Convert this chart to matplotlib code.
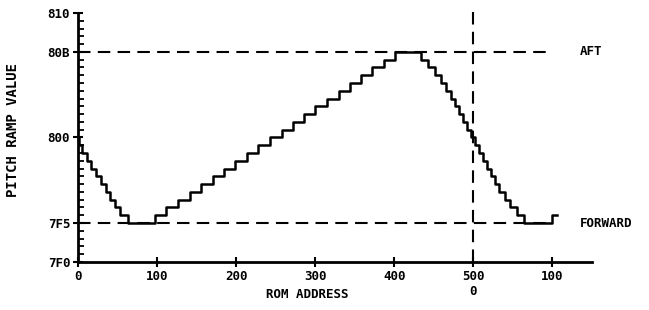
import matplotlib.pyplot as plt
from matplotlib.ticker import MultipleLocator

# ROM address where each step of the ramp starts, and the value it holds
rom_address = [0, 1, 5, 11, 17, 23, 29, 35, 41, 47, 53, 64,
               97, 112, 127, 142, 156, 171, 185, 199, 214, 228, 243,
               258, 272, 286, 300, 315, 330, 344, 358, 372, 387, 401,
               434, 443, 451, 459, 466, 472, 477, 482, 487, 492, 497,
               502, 507, 512, 517, 522, 527, 533, 540, 547, 555, 564,
               600, 606]
ramp_value = [0x800, 0x7FF, 0x7FE, 0x7FD, 0x7FC, 0x7FB, 0x7FA, 0x7F9,
              0x7F8, 0x7F7, 0x7F6, 0x7F5,
              0x7F6, 0x7F7, 0x7F8, 0x7F9, 0x7FA, 0x7FB, 0x7FC, 0x7FD,
              0x7FE, 0x7FF, 0x800, 0x801, 0x802, 0x803, 0x804, 0x805,
              0x806, 0x807, 0x808, 0x809, 0x80A, 0x80B,
              0x80A, 0x809, 0x808, 0x807, 0x806, 0x805, 0x804, 0x803,
              0x802, 0x801, 0x800, 0x7FF, 0x7FE, 0x7FD, 0x7FC, 0x7FB,
              0x7FA, 0x7F9, 0x7F8, 0x7F7, 0x7F6, 0x7F5,
              0x7F6, 0x7F6]

aft_value = 0x80B
forward_value = 0x7F5
rom_boundary = 500

x_ticks = [0, 100, 200, 300, 400, 500, 600]
x_labels = ['0', '100', '200', '300', '400', '500\n0', '100']
y_ticks = [0x7F0, 0x7F5, 0x800, 0x80B, 0x810]
y_labels = ['7F0', '7F5', '800', '80B', '810']

font = {'family': 'DejaVu Sans Mono', 'weight': 'bold', 'size': 9}

fig = plt.figure(figsize=(6.49, 3.10), dpi=100)
ax = fig.add_axes([0.120, 0.155, 0.792, 0.803])

dash = (0, (6, 3.5))
ax.plot([0, 600], [aft_value, aft_value], color='black', lw=1.5, linestyle=dash)
ax.plot([0, 600], [forward_value, forward_value], color='black', lw=1.5, linestyle=dash)
ax.plot([rom_boundary, rom_boundary], [0x7F0, 0x810 + 0.6], color='black', lw=1.5,
        linestyle=dash, clip_on=False)

ax.plot(rom_address, ramp_value, drawstyle='steps-post', color='black', lw=1.8)

ax.text(635, aft_value, 'AFT', va='center', ha='left', clip_on=False, **font)
ax.text(635, forward_value, 'FORWARD', va='center', ha='left', clip_on=False, **font)

ax.set_xlim(0, 650)
ax.set_ylim(0x7F0, 0x810)

ax.set_xticks(x_ticks)
ax.set_xticklabels(x_labels, fontdict=font, linespacing=1.2, va='top')
ax.set_yticks(y_ticks)
ax.set_yticklabels(y_labels, fontdict=font)
ax.yaxis.set_minor_locator(MultipleLocator(1))

ax.tick_params(axis='both', which='major', direction='inout', length=7, width=1.5, pad=2)
ax.tick_params(axis='y', which='minor', direction='in', length=4, width=1.3)

for side in ['top', 'right']:
    ax.spines[side].set_visible(False)
for side in ['left', 'bottom']:
    ax.spines[side].set_linewidth(2)

ax.set_xlabel('ROM ADDRESS', fontdict=font)
ax.xaxis.set_label_coords(0.447, -0.105)
ax.set_ylabel('PITCH RAMP VALUE', fontdict={**font, 'size': 10})
ax.yaxis.set_label_coords(-0.112, 0.53)

fig.savefig('out.png', dpi=100)
